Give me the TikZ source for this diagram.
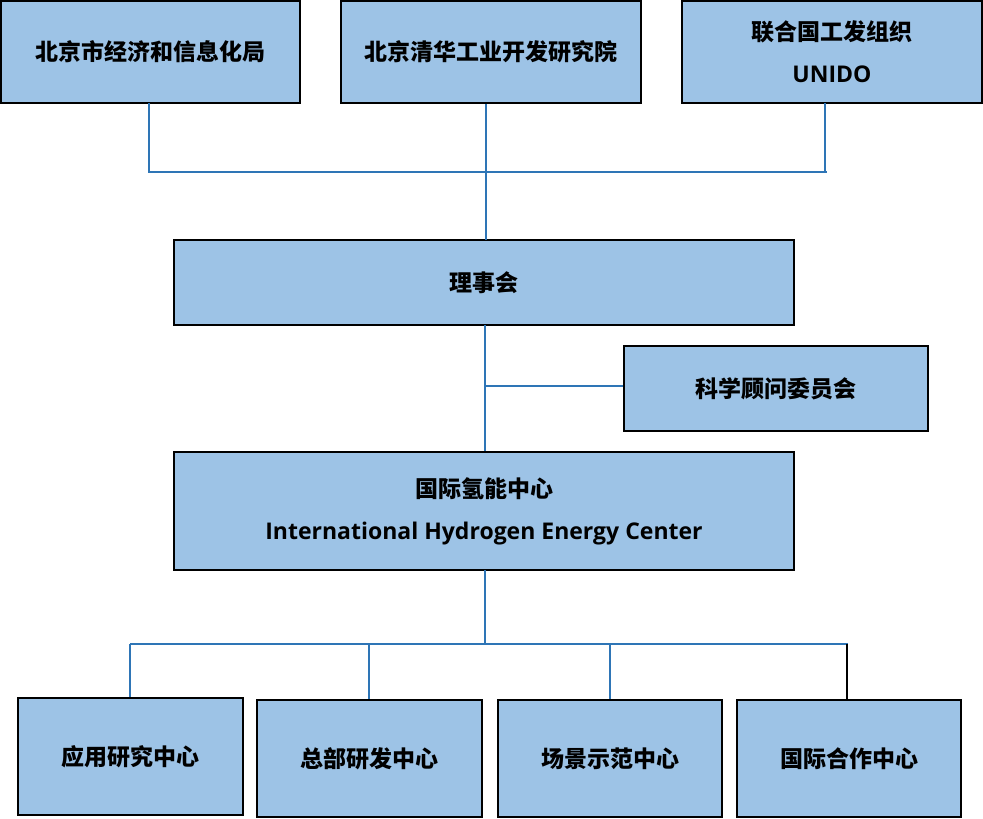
\documentclass[tikz,border=0pt]{standalone}
\usepackage{fontspec}
\setmainfont{Noto Sans CJK SC}
\newfontfamily\latinfont{Open Sans}
\definecolor{boxfill}{HTML}{9DC3E6}
\definecolor{linkblue}{HTML}{2E75B6}
\begin{document}
\begin{tikzpicture}[x=1pt,y=-1pt,
  orgbox/.style={draw=black,line width=2pt,fill=boxfill,inner sep=0pt,align=center,font=\fontsize{23}{42}\selectfont\bfseries},
  link/.style={draw=linkblue,line width=1.1pt},
  blacklink/.style={draw=black,line width=1.1pt}]
\useasboundingbox (0,0) rectangle (983,819);
% top row
\node[orgbox,minimum width=299pt,minimum height=102pt] (t1) at (150.5,52) {北京市经济和信息化局};
\node[orgbox,minimum width=300pt,minimum height=102pt] (t2) at (491,52) {北京清华工业开发研究院};
\node[orgbox,minimum width=300pt,minimum height=102pt] (t3) at (832,52) {联合国工发组织\\{\latinfont\bfseries UNIDO}};
% board
\node[orgbox,minimum width=620pt,minimum height=85pt] (board) at (484,282.5) {理事会};
\node[orgbox,minimum width=304pt,minimum height=85pt] (adv) at (776,388.5) {科学顾问委员会};
\node[orgbox,minimum width=620pt,minimum height=118pt] (ihec) at (484,511) {国际氢能中心\\{\latinfont\bfseries International Hydrogen Energy Center}};
% bottom row
\node[orgbox,minimum width=225pt,minimum height=117pt] (b1) at (130.5,756.5) {应用研究中心};
\node[orgbox,minimum width=225pt,minimum height=117pt] (b2) at (369.5,758.5) {总部研发中心};
\node[orgbox,minimum width=224pt,minimum height=117pt] (b3) at (610,758.5) {场景示范中心};
\node[orgbox,minimum width=224pt,minimum height=117pt] (b4) at (849,758.5) {国际合作中心};
% bus coordinates
\coordinate (busTL) at (148,172);
\coordinate (busTR) at (827,172);
\coordinate (busM) at (485,386);
\coordinate (busBL) at (130,644);
\coordinate (busBR) at (848,644);
% top connectors
\draw[link] (busTL) -- (busTR);
\draw[link] (149,103) -- (149,172);
\draw[link] (825,103) -- (825,172);
\draw[link] (t2.south -| 486,0) -- (486,240);
% board to centre
\draw[link] (485,325) -- (ihec.north -| 485,0);
\draw[link] (busM) -- (busM -| adv.west);
% bottom connectors
\draw[link] (485,570) -- (485,644);
\draw[link] (busBL) -- (busBR);
\draw[link] (busBL) -- (b1.north -| busBL);
\draw[link] (369,644) -- (b2.north -| 369,0);
\draw[link] (610,644) -- (b3.north -| 610,0);
\draw[blacklink] (847,644) -- (b4.north -| 847,0);
\end{tikzpicture}
\end{document}
